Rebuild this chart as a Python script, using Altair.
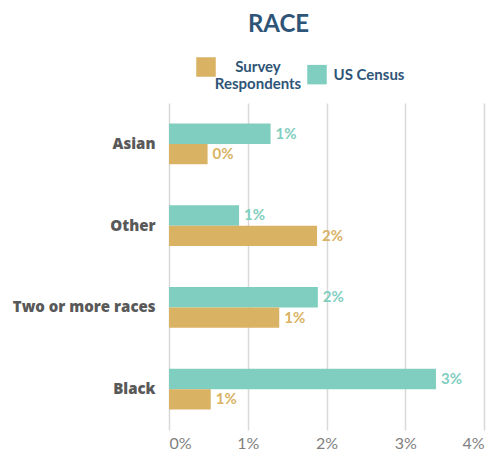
import altair as alt
import pandas as pd

categories = ["Asian", "Other", "Two or more races", "Black"]
series = ["US Census", "Survey Respondents"]
census_values = [1.29, 0.89, 1.89, 3.39]
survey_values = [0.49, 1.88, 1.40, 0.53]
x_ticks = [0, 1, 2, 3, 4]

rows = []
for c, v in zip(categories, census_values):
    rows.append({"race": c, "series": "US Census", "value": v})
for c, v in zip(categories, survey_values):
    rows.append({"race": c, "series": "Survey Respondents", "value": v})
df = pd.DataFrame(rows)

GOLD = "#D9B263"
TEAL = "#7FCEC0"
color_scale = alt.Scale(domain=["Survey Respondents", "US Census"], range=[GOLD, TEAL])

y_enc = alt.Y("race:N", sort=categories, title=None,
              scale=alt.Scale(paddingInner=0.5, paddingOuter=0.25),
              axis=alt.Axis(labelFont="Open Sans", labelFontWeight=800, labelFontSize=15,
                            labelColor="#595959", labelPadding=14, ticks=False, domain=False))
yoff = alt.YOffset("series:N", sort=series)

bars = alt.Chart(df).mark_bar().encode(
    x=alt.X("value:Q", title=None,
            scale=alt.Scale(domain=[0, 4], nice=False),
            axis=alt.Axis(values=x_ticks, labelExpr="datum.value + '%'", domain=False, ticks=False,
                          gridColor="#D9D9D9", gridWidth=1.5, labelFont="Lato", labelFontSize=16,
                          labelColor="#7F7F7F", labelPadding=5)),
    y=y_enc,
    yOffset=yoff,
    color=alt.Color("series:N", scale=color_scale, title=None,
                    legend=alt.Legend(orient="none", legendX=27, legendY=-46, direction="horizontal",
                                      symbolType="square", symbolSize=380, symbolOpacity=1,
                                      symbolStrokeWidth=0, labelAlign="center",
                                      labelFont="Lato", labelFontWeight="bold", labelFontSize=15,
                                      labelColor="#2E5577", columnPadding=5, labelOffset=42,
                                      labelExpr="datum.label == 'Survey Respondents' ? ['Survey', 'Respondents'] : datum.label")),
)

labels = alt.Chart(df).transform_calculate(
    lab="round(datum.value) + '%'"
).mark_text(align="left", baseline="middle", dx=5, font="Lato", fontWeight="bold", fontSize=15).encode(
    x="value:Q",
    y=alt.Y("race:N", sort=categories),
    yOffset=yoff,
    text="lab:N",
    color=alt.Color("series:N", scale=color_scale, legend=None),
)

chart = (bars + labels).properties(
    width=315, height=327,
    padding={"left": 161, "top": 95, "right": 10, "bottom": 21},
    autosize=alt.AutoSizeParams(type="none"),
    title=alt.TitleParams("RACE", font="Lato", fontSize=24, fontWeight="bold", color="#2E5577",
                          anchor="middle", dx=-48, offset=20),
).configure_view(stroke=None)

chart.save("out.html", embed_options={"renderer": "svg", "actions": False})
